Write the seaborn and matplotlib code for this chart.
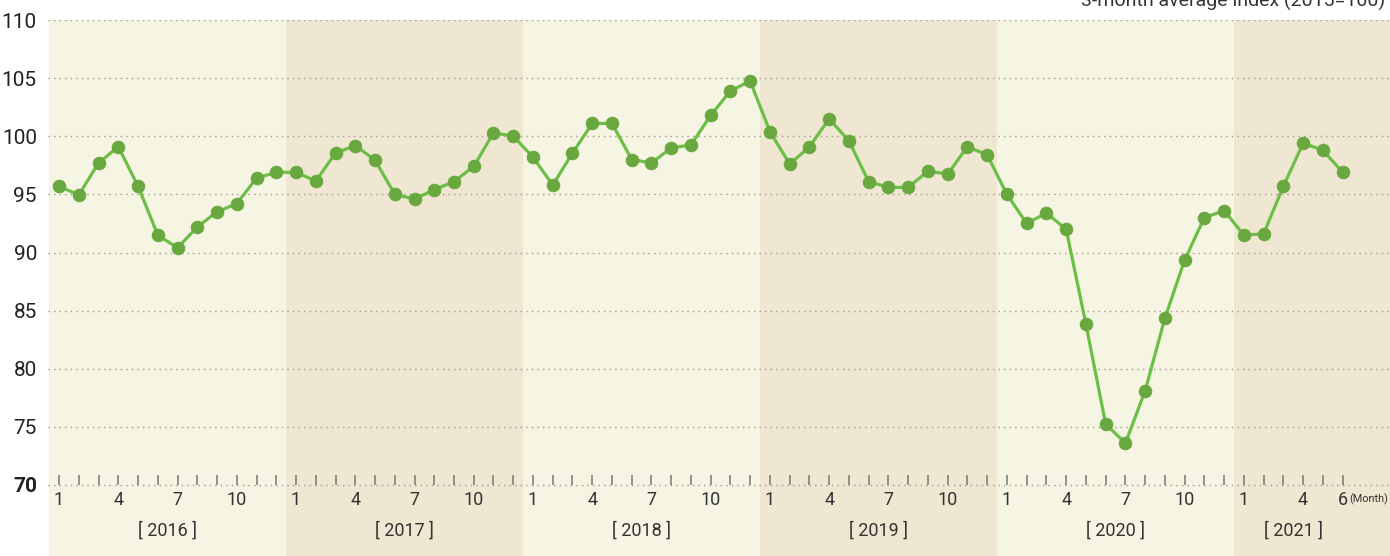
import numpy as np
import pandas as pd
import matplotlib
matplotlib.use("Agg")
import matplotlib.pyplot as plt
import seaborn as sns

# --- data (3-month average index, 2015=100) ---
years = ["2016", "2017", "2018", "2019", "2020", "2021"]
idx_2016 = [95.7, 94.95, 97.7, 99.1, 95.7, 91.5, 90.4, 92.2, 93.5, 94.2, 96.4, 96.9]
idx_2017 = [96.9, 96.15, 98.55, 99.2, 97.95, 95.0, 94.6, 95.4, 96.1, 97.4, 100.3, 100.0]
idx_2018 = [98.2, 95.8, 98.55, 101.1, 101.1, 98.0, 97.7, 99.0, 99.25, 101.8, 103.9, 104.75]
idx_2019 = [100.4, 97.6, 99.1, 101.5, 99.6, 96.1, 95.6, 95.6, 97.0, 96.75, 99.1, 98.4]
idx_2020 = [95.0, 92.5, 93.4, 92.0, 83.85, 75.25, 73.6, 78.1, 84.35, 89.35, 93.0, 93.6]
idx_2021 = [91.5, 91.6, 95.7, 99.4, 98.8, 96.9]
month_labels = ["1", "4", "7", "10"]
y_ticks = [70, 75, 80, 85, 90, 95, 100, 105, 110]

values = idx_2016 + idx_2017 + idx_2018 + idx_2019 + idx_2020 + idx_2021
df = pd.DataFrame({"t": np.arange(len(values)), "index": values})

sns.set_style("white")
plt.rcParams["font.family"] = ["Roboto", "DejaVu Sans"]

fig = plt.figure(figsize=(13.9, 5.56), dpi=100)
ax = fig.add_axes([48 / 1390, 0, 1 - 48 / 1390, 536 / 556])

ymin = 70 - (556 - 485) / 11.625
ax.set_ylim(ymin, 110)
ax.set_xlim(-0.56, 67.4)

# year bands
band_colors = ["#f6f4e2", "#f0e7d2"]
for i, yr in enumerate(years):
    ax.axvspan(i * 12 - 0.5, i * 12 + 11.5, color=band_colors[i % 2], lw=0, zorder=0)
    center = i * 12 + (5.5 if yr != "2021" else 2.5)
    ax.text(center, 66.05, f"[ {yr} ]", ha="center", va="center", fontsize=13, color="#333333")
    labels = month_labels if yr != "2021" else ["1", "4", "6"]
    for lab in labels:
        ax.text(i * 12 + int(lab) - 1, 68.7, lab, ha="center", va="center",
                fontsize=13, color="#333333")
ax.text(65.35, 68.8, "(Month)", ha="left", va="center",
        fontsize=7.8, color="#333333")

# horizontal dotted grid
for y in y_ticks:
    ax.axhline(y, color="#9a9a90", lw=1, ls=(0, (1, 3)), zorder=1)

# month tick marks
ax.vlines(df["t"], 70, 70.85, color="#777777", lw=1.1, zorder=2)

sns.lineplot(data=df, x="t", y="index", ax=ax, color="#6cbf46", lw=2.3,
             marker="o", markersize=9, markerfacecolor="#68a83f",
             markeredgecolor="#68a83f", zorder=3)

ax.set_xticks([])
ax.set_yticks(y_ticks)
ax.set_yticklabels([str(v) for v in y_ticks])
for lab in ax.get_yticklabels():
    lab.set_fontsize(15)
    lab.set_color("#222222")
    if lab.get_text() == "70":
        lab.set_fontweight("bold")
ax.tick_params(axis="y", length=0, pad=8)
ax.set_xlabel("")
ax.set_ylabel("")
for s in ax.spines.values():
    s.set_visible(False)

fig.text(0.9965, 0.997, "3-month average index (2015=100)", ha="right", va="center",
         fontsize=14, color="#333333")

fig.savefig("out.png", dpi=100)
